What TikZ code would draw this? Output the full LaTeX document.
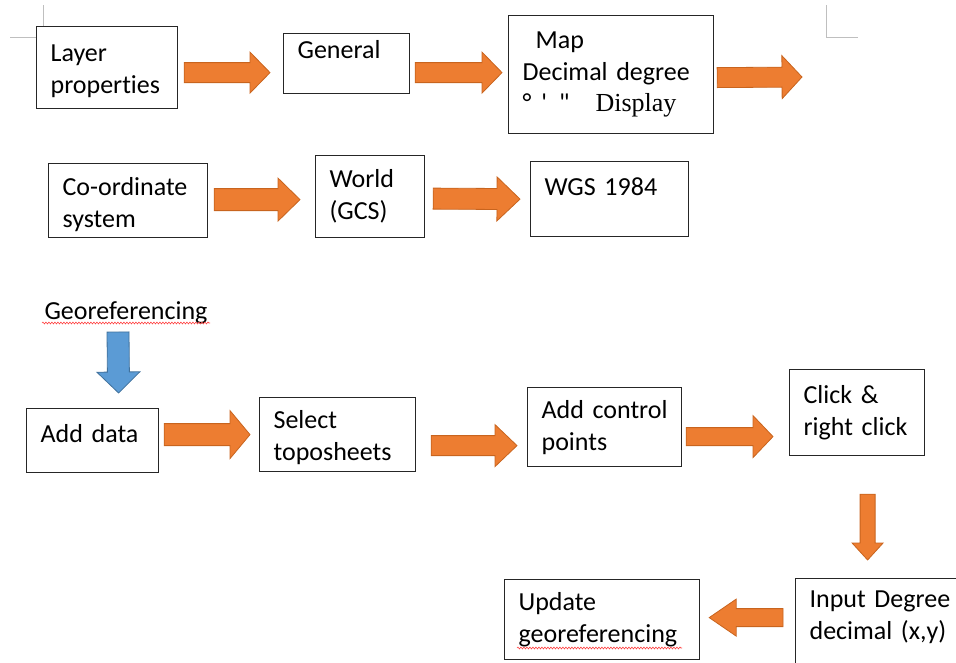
\documentclass[tikz,border=0pt]{standalone}
\usepackage{fontspec}
\setmainfont{Carlito}[RawFeature={-liga;-clig;-calt}]
\newfontfamily\timesfont{Liberation Serif}
\usetikzlibrary{calc, decorations.pathmorphing}

\definecolor{arrfill}{HTML}{ED7D31}
\definecolor{arrline}{HTML}{C8641E}
\definecolor{bluefill}{HTML}{5B9BD5}
\definecolor{blueline}{HTML}{41719C}

\newcommand{\boxfont}{\fontsize{26}{32}\selectfont\spaceskip=4.2pt plus 1pt minus 1pt\relax}

\tikzset{
  box/.style={draw=black!85, line width=1.2pt, fill=white, rectangle, anchor=north west,
    inner xsep=14pt, inner ysep=0pt, align=left, font=\boxfont},
  txt/.style={inner sep=0pt, font=\boxfont},
  fat/.style args={#1/#2/#3}{fill=arrfill, draw=arrline, line width=0.8pt,
    to path={let \p1=(\tikztostart), \p2=(\tikztotarget),
      \n1={atan2(\y2-\y1,\x2-\x1)}, \n2={veclen(\x2-\x1,\y2-\y1)} in
      ($(\p1)+(\n1+90:#1pt)$) -- ($(\p1)+(\n1:\n2-#3pt)+(\n1+90:#1pt)$)
      -- ($(\p1)+(\n1:\n2-#3pt)+(\n1+90:#2pt)$) -- (\p2)
      -- ($(\p1)+(\n1:\n2-#3pt)+(\n1-90:#2pt)$) -- ($(\p1)+(\n1:\n2-#3pt)+(\n1-90:#1pt)$)
      -- ($(\p1)+(\n1-90:#1pt)$) -- cycle}},
  spell/.style={draw=red!75, line width=0.6pt, decorate,
    decoration={snake, amplitude=0.9pt, segment length=3pt}},
  cornermark/.style={draw=black!25, line width=0.8pt}
}

\begin{document}
\begin{tikzpicture}[x=1pt, y=-1pt]
    \useasboundingbox (0,0) rectangle (956,662);
    \clip (0,0) rectangle (956,662);

    % page corner marks
    \draw[cornermark] (43,5) -- (43,37) -- (10,37);
    \draw[cornermark] (826,5) -- (826,37) -- (858,37);

    % first row
    \node (lp) [box, text width=113, minimum height=82] at (36,26) {\rule{0pt}{24pt}Layer\\proper\kern0pt ties};
    \node (gen) [box, text width=98, minimum height=60] at (283,33) {General\\[-4pt]\mbox{}};
    \node (map) [box, text width=177, minimum height=118] at (508,15)
        {\hspace*{13pt}Map\\Decimal degree\\[-1pt]°\hspace{10pt}\textquotesingle\hspace{12pt}\textquotedbl\hspace{26pt}{\timesfont Display}};
    \coordinate (mapout) at (802,77);

    \path[fat=10/20.5/20] ($(lp.east)+(6,5)$) to ($(gen.west)+(-13,9)$);
    \path[fat=10/20.5/20] ($(gen.east)+(5,9)$) to ($(map.west)+(-6,-2)$);
    \path[fat=10/21.5/20] ($(map.east)+(3,3)$) to (mapout);

    % second row
    \node (cs) [box, text width=131, minimum height=74] at (48,163) {\rule{0pt}{26pt}Co-ordinate\\system};
    \node (wld) [box, text width=81, minimum height=82] at (315,155) {World\\(GCS)};
    \node (wgs) [box, text width=130, minimum height=75] at (530,161) {WGS 1984\\[-8pt]\mbox{}};

    \path[fat=11/21.5/22] ($(cs.east)+(6,-1)$) to ($(wld.west)+(-15,3)$);
    \path[fat=10.5/22/23] ($(wld.east)+(8,2)$) to ($(wgs.west)+(-10,0)$);

    % georeferencing
    \node (geo) [txt] at (126,313) {Georeferencing};
    \draw[spell] (42,323) -- (210,323);

    \node (ad) [box, text width=104, minimum height=64] at (26,408) {Add data\\[-18pt]\mbox{}};
    \node (sel) [box, text width=128, minimum height=74] at (259,397) {\rule{0pt}{24pt}Select\\toposheets};
    \node (acp) [box, text width=126, minimum height=79] at (527,387) {Add control\\points};
    \node (clk) [box, text width=107, minimum height=86] at (789,369) {Click \&\\right click};
    \node (inp) [box, text width=152, minimum height=100] at (795,578) {Input Degree\\decimal (x,y)\\[-6pt]\mbox{}};
    \node (upd) [box, text width=167, minimum height=80] at (504,579) {Update\\georeferencing};
    \draw[spell] (517,648) -- (682,648);

    \path[fat=11/21.5/21, fill=bluefill, draw=blueline] ($(geo.center)+(-8,19)$) to ($(ad.north)+(26,-15)$);
    \path[fat=11/24/20] ($(ad.east)+(5,-6)$) to ($(sel.west)+(-9,0)$);
    \path[fat=10/21/22] ($(sel.east)+(15,11)$) to ($(acp.west)+(-10,18.5)$);
    \path[fat=9/21/20] ($(acp.east)+(4,9.5)$) to ($(clk.west)+(-16,24)$);
    \path[fat=7.5/15.5/17] ($(clk.south)+(10.5,38)$) to ($(inp.north)+(-18,-18)$);
    \path[fat=9/18.5/27] ($(inp.west)+(-12,-11)$) to ($(upd.east)+(9,-2)$);
\end{tikzpicture}
\end{document}
